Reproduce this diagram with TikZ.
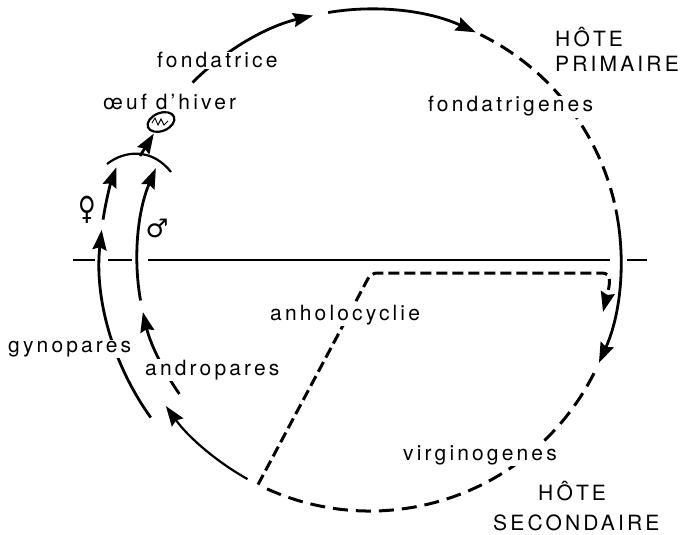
\documentclass[tikz,border=0pt]{standalone}
\usepackage{fontspec}
\setmainfont{TeX Gyre Heros}[LetterSpace=15]
\newfontfamily\symfont{DejaVu Sans}
\usetikzlibrary{arrows.meta,calc,shapes.geometric}
\begin{document}
\begin{tikzpicture}[x=1pt,y=1pt,
  lab/.style={font=\fontsize{21}{24}\selectfont, inner sep=1pt, anchor=base west},
  labw/.style={lab, fill=white},
  sline/.style={line width=2.8pt},
  dline/.style={line width=3pt, dash pattern=on 15pt off 8pt},
  aline/.style={line width=3pt, dash pattern=on 11pt off 5pt},
  hline/.style={line width=1.5pt},
  arr/.style={-{Stealth[length=20pt,width=14pt,inset=2.5pt]}},
  sym/.style={font=\symfont\fontsize{32}{34}\selectfont, inner sep=0pt}
]
\useasboundingbox (0,0) rectangle (681,-535);
\coordinate (C) at (370,-260);

% horizontal separator
\draw[hline] (73,-260) -- (95,-260);
\draw[hline] (108,-260) -- (132,-260);
\draw[hline] (148,-260) -- (610,-260);
\draw[hline] (627,-260) -- (647,-260);

% main cycle
\coordinate (m1) at ($(C)+(135:251pt)$);
\coordinate (m2) at ($(C)+(99.6:251pt)$);
\coordinate (m3) at ($(C)+(63.9:251pt)$);
\coordinate (m4) at ($(C)+(11.6:251pt)$);
\coordinate (m5) at ($(C)+(-26.8:251pt)$);
\coordinate (J)  at ($(C)+(-116.5:251pt)$);
\coordinate (m6) at ($(C)+(-119.2:251pt)$);
\draw[sline,arr] (m1) arc[start angle=135, end angle=103.1, radius=251pt];
\draw[sline,arr] (m2) arc[start angle=99.6, end angle=65.1, radius=251pt];
\draw[dline] (m3) arc[start angle=63.9, end angle=12.8, radius=251pt];
\draw[sline,arr] (m4) arc[start angle=11.6, end angle=-24.2, radius=251pt];
\draw[dline] (m5) arc[start angle=-26.8, end angle=-115.2, radius=251pt];
\draw[line width=2.2pt,arr] (m6) arc[start angle=-119.2, end angle=-144.4, radius=251pt];

% left branches
\coordinate (oa) at ($(C)+(215.7:270pt)$);
\coordinate (ob) at ($(C)+(171.4:270pt)$);
\coordinate (ia) at ($(C)+(215.1:233pt)$);
\coordinate (ib) at ($(C)+(190:233pt)$);
\draw[sline,arr] (oa) arc[start angle=215.7, end angle=173.6, radius=270pt];
\draw[sline,arr] (ob) arc[start angle=171.4, end angle=159.9, radius=270pt];
\draw[sline,arr] (ia) arc[start angle=215.1, end angle=192.9, radius=233pt];
\draw[sline,arr] (ib) arc[start angle=190, end angle=156.8, radius=233pt];

% cap, egg
\coordinate (capL) at (107,-164);
\coordinate (capR) at (171,-172);
\coordinate (capT) at (140,-156);
\draw[line width=2.2pt] (capL) .. controls (125,-150) and (152,-148) .. (capR);
\node (egg) [draw, ellipse, minimum width=28pt, minimum height=18pt, rotate=22, line width=2.2pt, inner sep=0pt] at (161,-122) {};
\draw[line width=0.9pt] (152,-123) -- (155,-118) -- (158,-125) -- (161,-119) -- (164,-125) -- (168,-121);
\draw[sline,arr,shorten >=1pt] (capT) -- (egg);

% anholocyclie
\coordinate (a1) at (371,-273);
\coordinate (a2) at (596,-273);
\coordinate (a3) at (603,-312);
\draw[aline,arr,rounded corners=6pt] (J) -- (a1) -- (a2) .. controls (612,-273) and (610,-284) .. (a3);

% labels
\node[labw] (fondatrice) at (156,-68) {fondatrice};
\node[lab] (oeuf) at (102,-110) {œuf d'hiver};
\node[labw] (fondatrigenes) at (427,-112) {fondatrigenes};
\node[lab] (hote1) at (554,-47) {HÔTE};
\node[lab] (prim) at (554,-72) {PRIMAIRE};
\node[labw] (anho) at (269,-320) {anholocyclie};
\node[labw] (gyno) at (7,-352) {gynopares};
\node[labw] (andro) at (144,-375) {andropares};
\node[labw] (virgo) at (402,-460) {virginogenes};
\node[lab] (hote2) at (537,-500) {HÔTE};
\node[lab] (sec) at (492,-530) {SECONDAIRE};
\node[sym, xscale=0.75] (fem) at (87.5,-210) {♀};
\node[sym, scale=0.8] (mal) at (157,-228) {♂};
\end{tikzpicture}
\end{document}
